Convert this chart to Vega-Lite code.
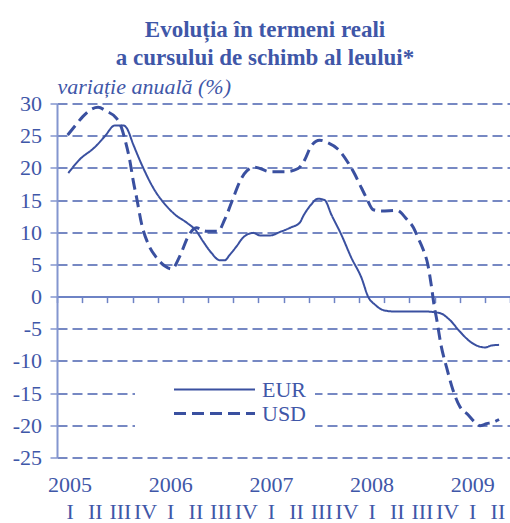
{
  "$schema": "https://vega.github.io/schema/vega-lite/v6.json",
  "width": 453,
  "height": 354,
  "autosize": {"type": "none"},
  "padding": {"left": 57, "top": 103.5, "right": 0, "bottom": 65.5},
  "background": "white",
  "config": {"view": {"stroke": null}, "font": "Liberation Serif"},
  "title": {
    "text": ["Evoluția în termeni reali", "a cursului de schimb al leului*"],
    "anchor": "middle",
    "frame": "group",
    "dx": -18.5,
    "font": "Liberation Serif",
    "fontSize": 23,
    "fontWeight": "bold",
    "color": "#3F57A8",
    "lineHeight": 28,
    "baseline": "alphabetic",
    "offset": -13
  },
  "data": {
    "values": [
      {"series": "EUR", "m": 1.35, "v": 19.2},
      {"series": "EUR", "m": 2.7, "v": 21.3},
      {"series": "EUR", "m": 4.5, "v": 23.2},
      {"series": "EUR", "m": 5.7, "v": 24.9},
      {"series": "EUR", "m": 6.9, "v": 26.6},
      {"series": "EUR", "m": 7.9, "v": 26.6},
      {"series": "EUR", "m": 8.3, "v": 26.2},
      {"series": "EUR", "m": 9.1, "v": 23.6},
      {"series": "EUR", "m": 10.1, "v": 20.5},
      {"series": "EUR", "m": 11.7, "v": 16.4},
      {"series": "EUR", "m": 12.9, "v": 14.3},
      {"series": "EUR", "m": 14.2, "v": 12.6},
      {"series": "EUR", "m": 15.45, "v": 11.5},
      {"series": "EUR", "m": 16.6, "v": 10.2},
      {"series": "EUR", "m": 17.4, "v": 8.6},
      {"series": "EUR", "m": 18.4, "v": 6.8},
      {"series": "EUR", "m": 19.4, "v": 5.65},
      {"series": "EUR", "m": 20.0, "v": 5.65},
      {"series": "EUR", "m": 20.6, "v": 6.5},
      {"series": "EUR", "m": 21.4, "v": 7.8},
      {"series": "EUR", "m": 22.2, "v": 9.2},
      {"series": "EUR", "m": 23.4, "v": 9.9},
      {"series": "EUR", "m": 24.2, "v": 9.5},
      {"series": "EUR", "m": 25.4, "v": 9.5},
      {"series": "EUR", "m": 26.6, "v": 10.05},
      {"series": "EUR", "m": 27.8, "v": 10.7},
      {"series": "EUR", "m": 28.95, "v": 11.5},
      {"series": "EUR", "m": 29.35, "v": 12.5},
      {"series": "EUR", "m": 30.3, "v": 14.3},
      {"series": "EUR", "m": 31.1, "v": 15.2},
      {"series": "EUR", "m": 31.9, "v": 15.0},
      {"series": "EUR", "m": 32.7, "v": 12.75},
      {"series": "EUR", "m": 33.9, "v": 9.6},
      {"series": "EUR", "m": 35.1, "v": 6.0},
      {"series": "EUR", "m": 36.3, "v": 2.9},
      {"series": "EUR", "m": 37.1, "v": -0.05},
      {"series": "EUR", "m": 37.9, "v": -1.25},
      {"series": "EUR", "m": 38.9, "v": -2.1},
      {"series": "EUR", "m": 40.0, "v": -2.3},
      {"series": "EUR", "m": 43.6, "v": -2.3},
      {"series": "EUR", "m": 45.6, "v": -2.55},
      {"series": "EUR", "m": 46.8, "v": -3.6},
      {"series": "EUR", "m": 48.0, "v": -5.4},
      {"series": "EUR", "m": 49.2, "v": -6.95},
      {"series": "EUR", "m": 50.2, "v": -7.7},
      {"series": "EUR", "m": 51.0, "v": -7.9},
      {"series": "EUR", "m": 51.8, "v": -7.6},
      {"series": "EUR", "m": 52.7, "v": -7.5},
      {"series": "USD", "m": 1.27, "v": 25.1},
      {"series": "USD", "m": 2.14, "v": 26.5},
      {"series": "USD", "m": 3.1, "v": 28.0},
      {"series": "USD", "m": 4.1, "v": 29.1},
      {"series": "USD", "m": 4.9, "v": 29.4},
      {"series": "USD", "m": 5.9, "v": 28.8},
      {"series": "USD", "m": 7.1, "v": 27.7},
      {"series": "USD", "m": 7.7, "v": 26.2},
      {"series": "USD", "m": 8.1, "v": 24.4},
      {"series": "USD", "m": 8.7, "v": 21.0},
      {"series": "USD", "m": 9.1, "v": 17.9},
      {"series": "USD", "m": 9.5, "v": 15.3},
      {"series": "USD", "m": 10.1, "v": 11.2},
      {"series": "USD", "m": 10.9, "v": 8.1},
      {"series": "USD", "m": 11.9, "v": 6.0},
      {"series": "USD", "m": 12.9, "v": 4.7},
      {"series": "USD", "m": 13.7, "v": 4.3},
      {"series": "USD", "m": 14.65, "v": 6.3},
      {"series": "USD", "m": 15.65, "v": 9.4},
      {"series": "USD", "m": 16.6, "v": 10.7},
      {"series": "USD", "m": 17.8, "v": 10.15},
      {"series": "USD", "m": 19.2, "v": 10.15},
      {"series": "USD", "m": 20.0, "v": 12.0},
      {"series": "USD", "m": 21.0, "v": 15.3},
      {"series": "USD", "m": 21.8, "v": 17.9},
      {"series": "USD", "m": 22.6, "v": 19.5},
      {"series": "USD", "m": 23.6, "v": 20.1},
      {"series": "USD", "m": 25.4, "v": 19.4},
      {"series": "USD", "m": 27.2, "v": 19.4},
      {"series": "USD", "m": 28.75, "v": 19.9},
      {"series": "USD", "m": 29.55, "v": 21.3},
      {"series": "USD", "m": 30.3, "v": 23.4},
      {"series": "USD", "m": 31.3, "v": 24.3},
      {"series": "USD", "m": 32.3, "v": 23.9},
      {"series": "USD", "m": 33.5, "v": 22.9},
      {"series": "USD", "m": 34.7, "v": 20.8},
      {"series": "USD", "m": 35.5, "v": 19.0},
      {"series": "USD", "m": 36.1, "v": 17.4},
      {"series": "USD", "m": 36.9, "v": 15.3},
      {"series": "USD", "m": 37.7, "v": 13.5},
      {"series": "USD", "m": 38.7, "v": 13.3},
      {"series": "USD", "m": 40.5, "v": 13.4},
      {"series": "USD", "m": 41.7, "v": 12.0},
      {"series": "USD", "m": 42.5, "v": 10.7},
      {"series": "USD", "m": 43.05, "v": 9.1},
      {"series": "USD", "m": 43.65, "v": 7.3},
      {"series": "USD", "m": 44.2, "v": 5.0},
      {"series": "USD", "m": 44.6, "v": 1.9},
      {"series": "USD", "m": 45.0, "v": -1.75},
      {"series": "USD", "m": 45.2, "v": -3.1},
      {"series": "USD", "m": 45.8, "v": -7.7},
      {"series": "USD", "m": 46.4, "v": -10.8},
      {"series": "USD", "m": 47.2, "v": -14.5},
      {"series": "USD", "m": 48.0, "v": -17.05},
      {"series": "USD", "m": 49.0, "v": -18.35},
      {"series": "USD", "m": 49.8, "v": -19.5},
      {"series": "USD", "m": 50.4, "v": -20.05},
      {"series": "USD", "m": 51.2, "v": -19.75},
      {"series": "USD", "m": 52.0, "v": -19.5},
      {"series": "USD", "m": 52.7, "v": -19.1}
    ]
  },
  "layer": [
    {
      "mark": {"type": "line", "interpolate": "monotone", "color": "#3A50A0"},
      "encoding": {
        "x": {
          "field": "m",
          "type": "quantitative",
          "scale": {"domain": [0, 54], "nice": false, "zero": false},
          "axis": {
            "orient": "bottom",
            "offset": -160.9,
            "values": [0, 3, 6, 9, 12, 15, 18, 21, 24, 27, 30, 33, 36, 39, 42, 45, 48, 51, 54],
            "labels": false,
            "grid": false,
            "title": null,
            "domainColor": "#6E83C5",
            "domainWidth": 2,
            "tickColor": "#6E83C5",
            "tickWidth": 1.5,
            "tickSize": 6
          }
        },
        "y": {
          "field": "v",
          "type": "quantitative",
          "scale": {"domain": [-25, 30], "nice": false, "zero": false},
          "axis": {
            "values": [-25, -20, -15, -10, -5, 0, 5, 10, 15, 20, 25, 30],
            "labelExpr": "'' + datum.value",
            "grid": true,
            "gridDash": [10, 5],
            "gridColor": "#4A62B0",
            "gridWidth": 1.3,
            "gridOpacity": {"condition": {"test": "datum.value === 0", "value": 0}, "value": 1},
            "domainColor": "#8496CF",
            "domainWidth": 2,
            "tickColor": "#8496CF",
            "tickWidth": 1.5,
            "tickSize": 7,
            "labelPadding": 8.5,
            "labelFont": "Liberation Serif",
            "labelFontSize": 22,
            "labelColor": "#3F57A8",
            "title": "variație anuală (%)",
            "titleAngle": 0,
            "titleAlign": "left",
            "titleBaseline": "alphabetic",
            "titleX": 0,
            "titleY": -10.5,
            "titleFont": "Liberation Serif",
            "titleFontSize": 22,
            "titleFontStyle": "italic",
            "titleFontWeight": "normal",
            "titleColor": "#3F57A8"
          }
        },
        "strokeDash": {
          "field": "series",
          "type": "nominal",
          "scale": {"domain": ["EUR", "USD"], "range": [[1, 0], [12, 6]]},
          "legend": {
            "orient": "none",
            "legendX": 78,
            "legendY": 267,
            "title": null,
            "symbolType": "M0,0H40.5",
            "symbolSize": 16,
            "symbolStrokeColor": "#3A50A0",
            "symbolFillColor": "transparent",
            "symbolStrokeWidth": 2.5,
            "symbolOffset": 20,
            "labelOffset": 77,
            "labelFont": "Liberation Serif",
            "labelFontSize": 22,
            "labelColor": "#3F57A8",
            "labelBaseline": "middle",
            "rowPadding": 2,
            "padding": 8,
            "fillColor": "white"
          }
        },
        "strokeWidth": {
          "field": "series",
          "type": "nominal",
          "scale": {"domain": ["EUR", "USD"], "range": [2, 3]},
          "legend": null
        }
      }
    },
    {
      "mark": {"type": "point", "opacity": 0},
      "encoding": {
        "x": {
          "field": "m",
          "type": "quantitative",
          "axis": {
            "orient": "bottom",
            "values": [1.5, 4.5, 7.5, 10.5, 13.5, 16.5, 19.5, 22.5, 25.5, 28.5, 31.5, 34.5, 37.5, 40.5, 43.5, 46.5, 49.5, 52.5],
            "labelExpr": "['I','II','III','IV'][floor(datum.value/3) % 4]",
            "domain": false,
            "ticks": false,
            "tickSize": 0,
            "grid": false,
            "title": null,
            "labelBaseline": "alphabetic",
            "labelPadding": 60.5,
            "labelOverlap": false,
            "labelFlush": false,
            "labelBound": false,
            "labelFont": "Liberation Serif",
            "labelFontSize": 22,
            "labelColor": "#3F57A8"
          }
        }
      }
    },
    {
      "mark": {"type": "point", "opacity": 0},
      "encoding": {
        "x": {
          "field": "m",
          "type": "quantitative",
          "axis": {
            "orient": "bottom",
            "values": [1.5, 13.5, 25.5, 37.5, 49.5],
            "labelExpr": "'' + (2005 + floor(datum.value/12))",
            "domain": false,
            "ticks": false,
            "tickSize": 0,
            "grid": false,
            "title": null,
            "labelBaseline": "alphabetic",
            "labelPadding": 34,
            "labelOverlap": false,
            "labelFlush": false,
            "labelBound": false,
            "labelFont": "Liberation Serif",
            "labelFontSize": 22,
            "labelColor": "#3F57A8"
          }
        }
      }
    }
  ],
  "resolve": {"axis": {"x": "independent"}}
}
